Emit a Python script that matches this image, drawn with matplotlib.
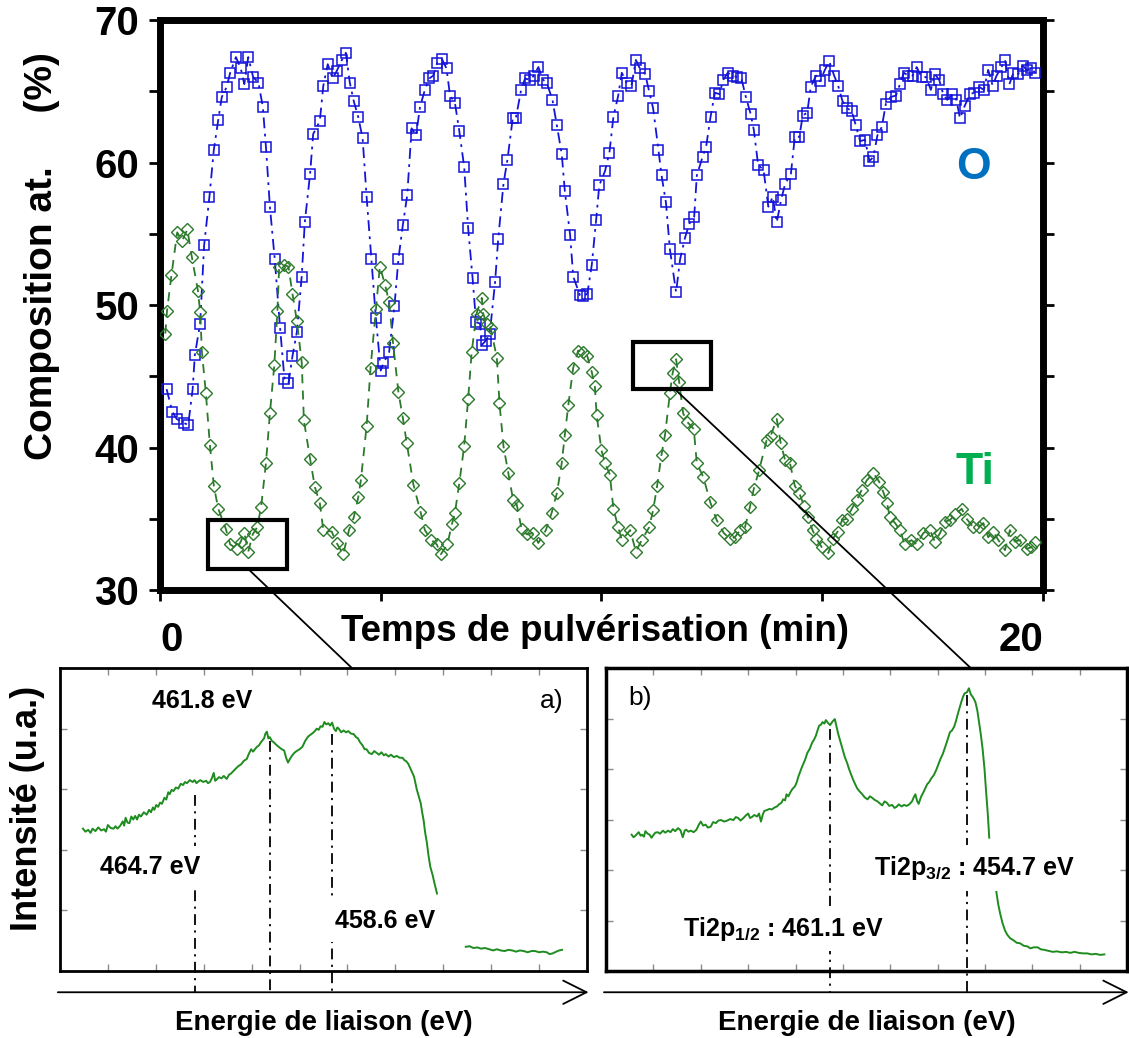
import matplotlib
matplotlib.use("Agg")
import matplotlib.pyplot as plt
from matplotlib.patches import Rectangle, ConnectionPatch
import numpy as np

plt.rcParams['font.family'] = ['Liberation Sans', 'DejaVu Sans']
plt.rcParams['mathtext.fontset'] = 'custom'
plt.rcParams['mathtext.rm'] = 'Liberation Sans:bold'
plt.rcParams['mathtext.it'] = 'Liberation Sans:bold'
plt.rcParams['mathtext.bf'] = 'Liberation Sans:bold'

# ---------------- data: depth profile ----------------
time_O = [0.15, 0.28, 0.38, 0.55, 0.64, 0.74, 0.79, 0.91, 1.00, 1.12, 1.22, 1.32, 1.40, 1.51, 1.59,
          1.72, 1.83, 1.91, 2.00, 2.11, 2.23, 2.33, 2.40, 2.49, 2.60, 2.72, 2.82, 2.91, 3.00, 3.10,
          3.21, 3.28, 3.40, 3.47, 3.62, 3.70, 3.80, 3.91, 4.00, 4.12, 4.21, 4.30, 4.39, 4.49, 4.59,
          4.68, 4.79, 4.89, 5.00, 5.06, 5.19, 5.31, 5.40, 5.50, 5.60, 5.70, 5.80, 5.89, 6.00, 6.10,
          6.19, 6.28, 6.38, 6.49, 6.57, 6.68, 6.78, 6.89, 6.98, 7.08, 7.16, 7.25, 7.29, 7.38, 7.47,
          7.59, 7.66, 7.78, 7.87, 7.99, 8.06, 8.18, 8.27, 8.38, 8.47, 8.57, 8.68, 8.76, 8.89, 8.99,
          9.10, 9.17, 9.29, 9.36, 9.51, 9.59, 9.68, 9.78, 9.88, 9.95, 10.08, 10.18, 10.27, 10.38, 10.46,
          10.57, 10.68, 10.78, 10.87, 10.99, 11.08, 11.17, 11.29, 11.36, 11.46, 11.55, 11.69, 11.78, 11.89, 11.99,
          12.10, 12.16, 12.29, 12.37, 12.47, 12.57, 12.67, 12.76, 12.86, 12.97, 13.08, 13.17, 13.27, 13.38, 13.45,
          13.55, 13.67, 13.78, 13.88, 13.97, 14.07, 14.16, 14.29, 14.38, 14.48, 14.56, 14.66, 14.74, 14.86, 14.95,
          15.06, 15.16, 15.27, 15.36, 15.46, 15.57, 15.67, 15.76, 15.86, 15.97, 16.07, 16.16, 16.25, 16.35, 16.44,
          16.55, 16.67, 16.76, 16.85, 16.95, 17.05, 17.14, 17.25, 17.35, 17.46, 17.55, 17.65, 17.74, 17.83, 17.95,
          18.04, 18.12, 18.23, 18.35, 18.44, 18.56, 18.66, 18.76, 18.86, 18.95, 19.06, 19.14, 19.24, 19.33, 19.44,
          19.54, 19.63, 19.74, 19.82]
comp_O = [44.1, 42.5, 42.0, 41.7, 41.6, 44.1, 46.5, 48.7, 54.2, 57.6, 60.9, 63.0, 64.6, 65.3, 66.3,
          67.4, 66.6, 65.5, 67.4, 66.0, 65.6, 63.9, 61.1, 56.9, 53.2, 48.4, 44.8, 44.5, 46.4, 48.1,
          52.0, 55.8, 59.2, 62.0, 62.9, 65.4, 66.9, 65.9, 66.4, 67.2, 67.7, 65.6, 64.3, 63.2, 61.7,
          57.6, 53.2, 49.1, 45.4, 45.9, 46.7, 49.9, 53.2, 55.6, 57.7, 62.4, 61.9, 63.9, 65.1, 65.9,
          66.1, 67.0, 67.3, 66.6, 64.7, 64.2, 62.2, 59.7, 55.4, 51.9, 48.8, 48.7, 47.2, 47.5, 48.0,
          51.6, 54.6, 58.5, 60.2, 63.1, 63.1, 65.1, 65.9, 65.8, 66.1, 66.7, 65.8, 65.6, 64.4, 62.6,
          60.6, 58.0, 54.9, 52.0, 50.7, 50.6, 50.8, 52.8, 56.0, 58.4, 59.4, 60.7, 63.2, 64.7, 66.3,
          65.6, 65.4, 67.2, 66.6, 66.2, 65.0, 63.8, 60.9, 59.1, 57.2, 53.9, 50.9, 53.2, 54.7, 55.7,
          56.2, 59.1, 60.4, 61.1, 63.2, 64.9, 64.8, 65.8, 66.3, 66.1, 66.0, 65.9, 64.6, 63.4, 62.3,
          59.8, 59.5, 56.9, 57.6, 55.8, 57.4, 58.5, 59.2, 61.8, 61.8, 63.3, 63.5, 65.3, 66.1, 65.7,
          66.5, 67.1, 66.1, 65.4, 64.3, 63.8, 63.6, 62.6, 61.5, 61.6, 60.1, 60.4, 61.9, 62.5, 64.1,
          64.6, 64.7, 65.5, 66.3, 66.1, 66.1, 66.7, 66.0, 66.0, 65.1, 66.2, 65.8, 64.8, 64.4, 64.8,
          64.4, 63.1, 64.0, 64.8, 64.9, 65.3, 65.1, 66.5, 65.4, 66.1, 66.7, 67.2, 65.5, 66.3, 66.2,
          66.8, 66.5, 66.6, 66.3]

time_Ti = [0.12, 0.16, 0.26, 0.39, 0.50, 0.62, 0.72, 0.86, 0.91, 0.95, 1.04, 1.13, 1.22, 1.32, 1.49,
           1.59, 1.74, 1.83, 1.91, 2.00, 2.10, 2.20, 2.29, 2.40, 2.49, 2.59, 2.66, 2.70, 2.80, 2.91,
           3.00, 3.10, 3.21, 3.26, 3.40, 3.51, 3.62, 3.70, 3.89, 4.00, 4.15, 4.28, 4.39, 4.49, 4.55,
           4.68, 4.77, 4.89, 4.98, 5.10, 5.19, 5.28, 5.40, 5.50, 5.59, 5.74, 5.90, 6.00, 6.15, 6.27,
           6.36, 6.51, 6.61, 6.68, 6.78, 6.89, 6.98, 7.06, 7.17, 7.29, 7.32, 7.40, 7.49, 7.63, 7.69,
           7.78, 7.89, 8.00, 8.08, 8.19, 8.31, 8.46, 8.57, 8.74, 8.87, 8.99, 9.10, 9.17, 9.25, 9.36,
           9.47, 9.59, 9.68, 9.78, 9.85, 9.89, 10.00, 10.08, 10.19, 10.27, 10.38, 10.46, 10.65, 10.78, 10.91,
           11.08, 11.17, 11.26, 11.36, 11.44, 11.55, 11.61, 11.69, 11.76, 11.85, 11.94, 12.09, 12.16, 12.31, 12.46,
           12.61, 12.77, 12.91, 13.02, 13.14, 13.25, 13.36, 13.45, 13.57, 13.74, 13.83, 13.97, 14.06, 14.16, 14.27,
           14.38, 14.48, 14.59, 14.68, 14.78, 14.87, 14.99, 15.14, 15.24, 15.35, 15.45, 15.55, 15.67, 15.78, 15.89,
           16.01, 16.16, 16.29, 16.38, 16.47, 16.53, 16.65, 16.76, 16.87, 17.02, 17.14, 17.29, 17.44, 17.55, 17.67,
           17.78, 17.89, 18.01, 18.16, 18.27, 18.42, 18.54, 18.65, 18.76, 18.87, 18.99, 19.14, 19.25, 19.36, 19.48,
           19.63, 19.74, 19.82]
comp_Ti = [48.0, 49.6, 52.1, 55.1, 54.5, 55.3, 53.4, 51.0, 49.5, 46.7, 43.8, 40.2, 37.3, 35.7, 34.3,
           33.2, 32.9, 33.4, 34.0, 32.7, 33.9, 34.4, 35.8, 38.9, 42.4, 45.8, 49.6, 52.7, 52.8, 52.7,
           50.8, 48.9, 46.0, 41.9, 39.2, 37.2, 36.1, 34.2, 34.1, 33.3, 32.5, 34.2, 35.1, 36.5, 37.7,
           41.5, 45.6, 49.7, 52.7, 51.4, 50.2, 47.3, 43.9, 42.1, 40.3, 37.4, 35.5, 34.2, 33.5, 33.2,
           32.5, 33.2, 34.6, 35.4, 37.5, 40.1, 43.4, 46.7, 49.4, 50.5, 49.4, 48.7, 48.4, 46.3, 43.1,
           40.1, 38.2, 36.3, 36.0, 34.3, 33.9, 34.0, 33.3, 34.2, 35.4, 36.8, 38.9, 40.9, 43.0, 45.6,
           46.8, 46.7, 46.4, 45.3, 44.3, 42.3, 39.8, 38.9, 38.1, 35.7, 34.4, 33.5, 34.2, 32.7, 33.5,
           34.4, 35.6, 37.3, 39.5, 40.9, 43.8, 45.2, 46.2, 44.6, 42.4, 41.8, 41.3, 38.9, 37.9, 36.2,
           34.9, 34.0, 33.6, 33.7, 34.2, 34.4, 35.8, 37.1, 38.4, 40.5, 40.8, 42.0, 40.3, 39.1, 38.9,
           37.3, 36.8, 35.9, 35.1, 34.2, 33.6, 33.0, 32.6, 33.6, 34.1, 34.9, 35.0, 35.7, 36.3, 37.0,
           37.7, 38.2, 37.6, 36.9, 36.1, 35.1, 34.7, 34.2, 33.2, 33.5, 33.2, 34.0, 34.2, 33.4, 34.0,
           34.8, 34.9, 35.3, 35.7, 35.0, 34.4, 34.4, 34.7, 33.7, 34.1, 33.5, 32.8, 34.2, 33.4, 33.5,
           32.9, 33.0, 33.4]

x_ticks = [0, 5, 10, 15, 20]
x_tick_labels = ['0', '', '', '', '20']
y_ticks = [30, 35, 40, 45, 50, 55, 60, 65, 70]
y_tick_labels = ['30', '', '40', '', '50', '', '60', '', '70']

# zoomed windows (time range, composition range)
win_a_t = [1.09, 2.88]
win_a_c = [31.5, 34.9]
win_b_t = [10.72, 12.48]
win_b_c = [44.1, 47.4]

# ---------------- data: XPS spectra (arbitrary units) ----------------
spec_a_x = [0.48, 0.53, 0.59, 0.64, 0.68, 0.74, 0.80, 0.86, 0.92, 0.96, 1.00, 1.06, 1.12, 1.16, 1.20,
            1.26, 1.31, 1.34, 1.37, 1.41, 1.45, 1.49, 1.53, 1.57, 1.61, 1.65, 1.69, 1.75, 1.81, 1.86,
            1.90, 1.94, 1.97, 2.01, 2.05, 2.09, 2.13, 2.18, 2.22, 2.26, 2.29, 2.33, 2.37, 2.42, 2.47,
            2.52, 2.57, 2.61, 2.65, 2.71, 2.77, 2.81, 2.85, 2.89, 2.93, 2.99, 3.05, 3.09, 3.13, 3.17,
            3.21, 3.24, 3.27, 3.32, 3.37, 3.42, 3.48, 3.53, 3.57, 3.62, 3.67, 3.72, 3.78, 3.84, 3.90,
            3.94, 3.99, 4.03, 4.07, 4.11, 4.15, 4.20, 4.26, 4.29, 4.32, 4.35, 4.38, 4.42, 4.47, 4.52,
            4.58, 4.63, 4.68, 4.72, 4.76, 4.80, 4.84, 4.89, 4.94, 5.00, 5.06, 5.12, 5.18, 5.23, 5.28,
            5.32, 5.36, 5.40, 5.44, 5.48, 5.52, 5.56, 5.60, 5.64, 5.68, 5.72, 5.76, 5.79, 5.82, 5.87,
            5.92, 5.97, 6.02, 6.07, 6.13, 6.18, 6.22, 6.26, 6.31, 6.36, 6.40, 6.45, 6.51, 6.56, 6.61,
            6.66, 6.71, 6.76, 6.80, 6.86, 6.91, 6.97, 7.03, 7.09, 7.15, 7.19, 7.23, 7.27, 7.31, 7.35,
            7.39, 7.42, 7.45, 7.49, 7.53, 7.56, 7.59, 7.62, 7.66, 7.69, 7.73, 7.78, 7.82, 7.87, 8.20,
            8.47, 8.55, 8.63, 8.71, 8.79, 8.87, 8.96, 9.04, 9.12, 9.20, 9.28, 9.36, 9.44, 9.52, 9.60,
            9.68, 9.76, 9.84, 9.92, 10.00, 10.08, 10.16, 10.22, 10.28, 10.36, 10.42, 10.48]
spec_a_y = [2.35, 2.30, 2.33, 2.28, 2.35, 2.31, 2.37, 2.32, 2.34, 2.30, 2.41, 2.36, 2.35, 2.39, 2.35,
            2.40, 2.47, 2.40, 2.53, 2.45, 2.44, 2.55, 2.50, 2.56, 2.50, 2.58, 2.55, 2.62, 2.58, 2.66,
            2.62, 2.70, 2.66, 2.74, 2.71, 2.78, 2.76, 2.86, 2.83, 2.95, 2.92, 2.99, 2.97, 3.03, 3.01,
            3.09, 3.07, 3.12, 3.10, 3.15, 3.12, 3.15, 3.10, 3.13, 3.15, 3.12, 3.14, 3.10, 3.12, 3.18,
            3.27, 3.14, 3.16, 3.20, 3.18, 3.22, 3.17, 3.24, 3.26, 3.30, 3.34, 3.38, 3.41, 3.47, 3.50,
            3.58, 3.66, 3.62, 3.66, 3.70, 3.72, 3.78, 3.84, 3.92, 3.95, 3.84, 3.86, 3.80, 3.77, 3.73,
            3.69, 3.66, 3.64, 3.52, 3.44, 3.50, 3.55, 3.60, 3.63, 3.66, 3.70, 3.80, 3.87, 3.90, 3.93,
            3.96, 4.00, 3.98, 4.04, 4.03, 4.11, 4.07, 4.09, 4.05, 4.10, 4.00, 3.96, 4.02, 4.00, 3.94,
            3.97, 3.94, 3.96, 3.92, 3.91, 3.86, 3.84, 3.78, 3.73, 3.66, 3.66, 3.60, 3.58, 3.63, 3.60,
            3.57, 3.61, 3.56, 3.58, 3.54, 3.57, 3.53, 3.55, 3.52, 3.52, 3.48, 3.46, 3.42, 3.35, 3.28,
            3.21, 3.10, 2.99, 2.88, 2.77, 2.62, 2.49, 2.30, 2.11, 1.92, 1.72, 1.58, 1.44, 1.28, np.nan,
            0.40, 0.41, 0.38, 0.39, 0.37, 0.38, 0.36, 0.34, 0.36, 0.34, 0.33, 0.35, 0.34, 0.32, 0.34,
            0.33, 0.31, 0.33, 0.33, 0.31, 0.32, 0.31, 0.28, 0.29, 0.32, 0.34, 0.35]

spec_b_x = [0.54, 0.58, 0.62, 0.66, 0.69, 0.73, 0.76, 0.80, 0.83, 0.88, 0.92, 0.96, 0.99, 1.04, 1.09,
            1.14, 1.20, 1.25, 1.31, 1.36, 1.41, 1.46, 1.52, 1.57, 1.62, 1.66, 1.69, 1.74, 1.79, 1.85,
            1.91, 1.96, 2.00, 2.05, 2.10, 2.15, 2.21, 2.26, 2.32, 2.37, 2.43, 2.49, 2.56, 2.62, 2.69,
            2.74, 2.79, 2.84, 2.90, 2.95, 3.00, 3.04, 3.08, 3.13, 3.19, 3.23, 3.27, 3.31, 3.34, 3.40,
            3.45, 3.50, 3.56, 3.61, 3.65, 3.70, 3.74, 3.78, 3.81, 3.85, 3.88, 3.93, 3.99, 4.03, 4.06,
            4.10, 4.14, 4.20, 4.25, 4.30, 4.35, 4.39, 4.43, 4.47, 4.50, 4.54, 4.57, 4.61, 4.64, 4.68,
            4.73, 4.78, 4.83, 4.87, 4.90, 4.94, 4.97, 5.01, 5.04, 5.09, 5.13, 5.18, 5.22, 5.26, 5.30,
            5.35, 5.41, 5.46, 5.52, 5.57, 5.62, 5.67, 5.73, 5.78, 5.83, 5.88, 5.93, 5.98, 6.04, 6.09,
            6.13, 6.18, 6.24, 6.29, 6.35, 6.40, 6.46, 6.50, 6.53, 6.57, 6.60, 6.65, 6.70, 6.74, 6.78,
            6.82, 6.87, 6.92, 6.97, 7.02, 7.06, 7.11, 7.15, 7.20, 7.26, 7.30, 7.35, 7.39, 7.42, 7.46,
            7.50, 7.54, 7.57, 7.62, 7.66, 7.70, 7.74, 7.77, 7.80, 7.84, 7.87, 7.91, 7.95, 7.99, 8.02,
            8.06, 8.09, 8.16,
            8.24, 8.28, 8.32, 8.37, 8.42, 8.47, 8.53, 8.60, 8.67, 8.74, 8.82, 8.89, 8.96, 9.03, 9.11,
            9.18, 9.25, 9.34, 9.43, 9.52, 9.62, 9.71, 9.80, 9.89, 9.98, 10.07, 10.16, 10.25, 10.34, 10.43,
            10.52]
spec_b_y = [2.70, 2.65, 2.68, 2.72, 2.75, 2.68, 2.70, 2.66, 2.77, 2.72, 2.70, 2.64, 2.68, 2.74, 2.75,
            2.72, 2.78, 2.74, 2.78, 2.75, 2.81, 2.77, 2.83, 2.79, 2.65, 2.78, 2.80, 2.76, 2.78, 2.75,
            2.80, 2.90, 2.96, 2.88, 2.90, 2.84, 2.86, 2.95, 2.93, 2.98, 2.99, 2.96, 2.98, 3.01, 2.99,
            3.05, 3.03, 2.98, 3.03, 3.08, 3.12, 3.03, 3.05, 3.09, 3.06, 3.12, 2.96, 3.10, 3.17, 3.19,
            3.21, 3.20, 3.24, 3.26, 3.30, 3.33, 3.40, 3.38, 3.50, 3.46, 3.52, 3.60, 3.66, 3.75, 3.85,
            3.95, 4.05, 4.18, 4.32, 4.40, 4.52, 4.58, 4.66, 4.78, 4.86, 4.88, 4.93, 4.90, 4.97, 4.92,
            4.87, 4.94, 4.99, 4.82, 4.70, 4.57, 4.47, 4.35, 4.24, 4.12, 4.00, 3.88, 3.78, 3.70, 3.62,
            3.56, 3.50, 3.44, 3.40, 3.46, 3.43, 3.39, 3.36, 3.32, 3.28, 3.36, 3.33, 3.27, 3.29, 3.23,
            3.25, 3.30, 3.26, 3.29, 3.27, 3.30, 3.36, 3.45, 3.50, 3.36, 3.31, 3.45, 3.54, 3.62, 3.70,
            3.74, 3.82, 3.88, 3.98, 4.10, 4.20, 4.30, 4.41, 4.55, 4.73, 4.76, 4.84, 4.96, 5.07, 5.20,
            5.33, 5.44, 5.50, 5.52, 5.60, 5.48, 5.43, 5.38, 5.32, 5.15, 4.96, 4.70, 4.40, 4.00, 3.60,
            3.10, 2.64, np.nan,
            1.57, 1.32, 1.14, 0.95, 0.81, 0.72, 0.65, 0.61, 0.56, 0.55, 0.50, 0.49, 0.45, 0.47, 0.47,
            0.43, 0.42, 0.40, 0.38, 0.39, 0.37, 0.38, 0.36, 0.38, 0.36, 0.35, 0.35, 0.33, 0.34, 0.32,
            0.33]

peaks_a_x = [2.82, 4.38, 5.67]
peaks_a_top = [2.90, 3.80, 3.92]
peaks_a_labels = ['464.7 eV', '461.8 eV', '458.6 eV']
peaks_b_x = [4.73, 7.61]
peaks_b_top = [4.80, 5.46]
peaks_b_labels = ['Ti2p$_{1/2}$ : 461.1 eV', 'Ti2p$_{3/2}$ : 454.7 eV']

# ---------------- figure ----------------
blue = '#1414D8'
green = '#2B7A2B'
spec_green = '#1F8C1F'

fig = plt.figure(figsize=(11.29, 10.38), dpi=100)
ax = fig.add_axes([0.1417, 0.4316, 0.7821, 0.5491])

ax.plot(time_O, comp_O, color=blue, ls=(0, (6, 3, 1.5, 3)), lw=1.3,
        marker='s', ms=7, mfc='none', mec=blue, mew=1.1, zorder=3)
ax.plot(time_Ti, comp_Ti, color=green, ls=(0, (5, 4)), lw=1.3,
        marker='D', ms=6.5, mfc='none', mec=green, mew=1.0, zorder=3)

ax.set_xlim(0, 20)
ax.set_ylim(30, 70)
ax.set_xticks(x_ticks)
ax.set_xticklabels(x_tick_labels)
ax.set_yticks(y_ticks)
ax.set_yticklabels(y_tick_labels)
for s in ax.spines.values():
    s.set_linewidth(5)
ax.tick_params(axis='both', direction='out', length=8, width=2, labelsize=29, right=True, top=False)
ax.tick_params(axis='x', pad=14)
ax.tick_params(axis='y', pad=7)
for lbl in ax.get_xticklabels() + ax.get_yticklabels():
    lbl.set_fontweight('bold')
ax.get_xticklabels()[-1].set_horizontalalignment('right')
ax.get_xticklabels()[0].set_horizontalalignment('left')

ax.set_xlabel('Temps de pulvérisation (min)', fontsize=26.5, fontweight='bold', va='center')
ax.xaxis.set_label_coords(0.493, -0.072)
ax.set_ylabel('Composition at.     (%)', fontsize=28, fontweight='bold', va='center')
ax.yaxis.set_label_coords(-0.134, 0.586)

ax.text(0.921, 0.742, 'O', transform=ax.transAxes, color='#0070C0', fontsize=32,
        fontweight='bold', ha='center', va='center')
ax.text(0.923, 0.207, 'Ti', transform=ax.transAxes, color='#00B050', fontsize=32,
        fontweight='bold', ha='center', va='center')

for wt, wc in [(win_a_t, win_a_c), (win_b_t, win_b_c)]:
    ax.add_patch(Rectangle((wt[0], wc[0]), wt[1] - wt[0], wc[1] - wc[0], fill=False,
                           lw=3, ec='black', zorder=5))

# ---------------- panels ----------------
axa = fig.add_axes([0.0531, 0.0645, 0.4668, 0.2919])
axa.plot(spec_a_x, spec_a_y, color=spec_green, lw=1.4)
axa.set_xlim(0, 11)
axa.set_ylim(0, 5)

axb = fig.add_axes([0.5368, 0.0645, 0.4615, 0.2919])
axb.plot(spec_b_x, spec_b_y, color=spec_green, lw=1.4)
axb.set_xlim(0, 11)
axb.set_ylim(0, 6)

for a, ny, lw in [(axa, 5, 2.0), (axb, 6, 2.5)]:
    a.set_xticks(range(1, 11))
    a.set_yticks(range(1, ny))
    a.tick_params(direction='in', length=5, width=1, color='#8a8a8a', labelbottom=False,
                  labelleft=False, top=True, right=True)
    for s in a.spines.values():
        s.set_linewidth(lw)
    a.annotate('', xy=(1.003, -0.07), xytext=(-0.004, -0.07), xycoords='axes fraction',
               arrowprops=dict(arrowstyle='->,head_length=0.6,head_width=0.3', lw=1.3,
                               color='black', mutation_scale=28, shrinkA=0, shrinkB=0),
               annotation_clip=False)
    a.text(0.501, -0.172, 'Energie de liaison (eV)', transform=a.transAxes, ha='center',
           va='center', fontsize=20, fontweight='bold')

dashdot = (0, (6, 3, 1.2, 3))
for px, pt in zip(peaks_a_x, peaks_a_top):
    axa.plot([px, px], [pt, -0.35], color='black', lw=1.3, ls=dashdot, clip_on=False, zorder=2)
for px, pt in zip(peaks_b_x, peaks_b_top):
    axb.plot([px, px], [pt, -0.43], color='black', lw=1.3, ls=dashdot, clip_on=False, zorder=2)

box = dict(boxstyle='square,pad=0.35', fc='white', ec='none')
axa.text(0.83, 1.72, peaks_a_labels[0], fontsize=18, fontweight='bold', ha='left', va='center',
         bbox=box, zorder=4)
axa.text(1.93, 4.45, peaks_a_labels[1], fontsize=18, fontweight='bold', ha='left', va='center',
         zorder=4)
axa.text(5.74, 0.83, peaks_a_labels[2], fontsize=18, fontweight='bold', ha='left', va='center',
         bbox=box, zorder=4)
axa.text(10.52, 4.45, 'a)', fontsize=19, ha='right', va='center')

axb.text(1.63, 0.84, peaks_b_labels[0], fontsize=18, fontweight='bold', ha='left', va='center',
         bbox=box, zorder=4)
axb.text(5.66, 2.04, peaks_b_labels[1], fontsize=18, fontweight='bold', ha='left', va='center',
         bbox=box, zorder=4)
axb.text(0.46, 5.41, 'b)', fontsize=19, ha='left', va='center')

axa.set_ylabel('Intensité (u.a.)', fontsize=26, fontweight='bold', va='center')
axa.yaxis.set_label_coords(-0.061, 0.538)

# ---------------- connector lines ----------------
con1 = ConnectionPatch(xyA=(1.99, win_a_c[0]), coordsA=ax.transData,
                       xyB=(0.554, 1.0), coordsB=axa.transAxes, color='black', lw=1.3)
con2 = ConnectionPatch(xyA=(11.66, win_b_c[0]), coordsA=ax.transData,
                       xyB=(0.70, 1.0), coordsB=axb.transAxes, color='black', lw=1.3)
fig.add_artist(con1)
fig.add_artist(con2)

fig.savefig('out.png', dpi=100)
